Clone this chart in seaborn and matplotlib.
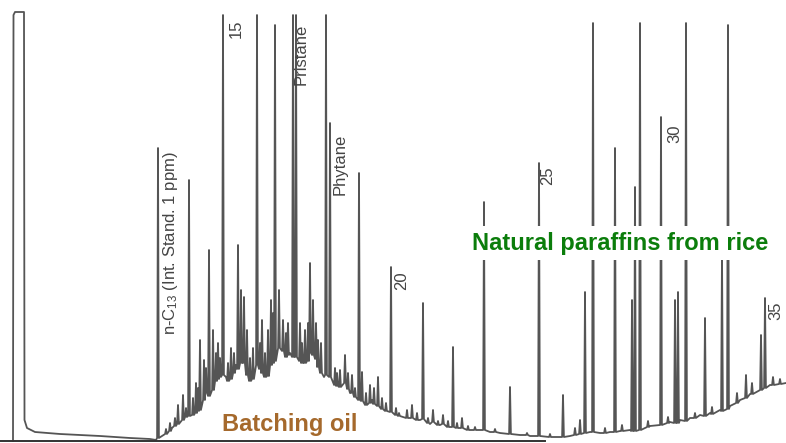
import pandas as pd
import seaborn as sns
import matplotlib
matplotlib.use('Agg')
import matplotlib.pyplot as plt

# Chromatogram: x = retention position, y = detector signal
# (same scale as the picture, signal 0 at the bottom edge)

# backbone of the trace: solvent front, unresolved hump ("batching oil"), drift
base_x = [13, 13.5, 15, 24, 24.5, 27, 35, 60, 100, 130, 150, 156,
          165, 172, 178, 183, 190, 195, 200, 205, 210, 215, 220, 226, 232, 236,
          242, 248, 252, 256, 262, 266, 270, 275, 280, 285, 290, 296, 300, 305,
          310, 315, 320, 324, 330, 335, 340, 345, 350, 355, 360, 365, 372, 378,
          385, 392, 400, 410, 420, 430, 440, 450, 460, 470, 480, 490, 500, 510,
          520, 530, 540, 550, 560, 570, 580, 590, 600, 610, 620, 630, 640, 650,
          660, 670, 680, 690, 700, 710, 720, 730, 740, 750, 760, 770, 780, 786]
base_y = [2, 428, 431, 431, 23, 15, 11, 9, 7, 5, 4, 3,
          9, 15, 19, 25, 30, 29, 40, 56, 52, 68, 74, 66, 72, 78,
          88, 66, 68, 84, 72, 67, 80, 93, 100, 88, 90, 82, 86, 78,
          92, 86, 72, 66, 70, 60, 56, 62, 50, 46, 42, 38, 43, 37,
          33, 29, 27, 25, 23, 19, 18, 16, 15, 13, 13, 11, 10, 9,
          8, 7, 7, 6, 6, 7, 10, 11, 10, 11, 12, 13, 15, 17,
          19, 21, 23, 25, 28, 30, 33, 37, 43, 49, 55, 58, 59, 60]

# resolved peaks and grass: position, apex signal, signal at the foot
peak_x = [158, 166, 170, 175, 178, 183, 186, 189, 193, 196, 198, 200, 204,
          206, 209, 213, 216, 218, 220, 223, 228, 231, 234, 238, 241, 244,
          247, 250, 253, 257, 260, 262, 265, 268, 271, 273, 275, 279, 283,
          286, 288, 293, 296, 300, 302, 305, 308, 310, 313, 316, 318, 321,
          326, 330, 335, 337, 340, 345, 348, 352, 355, 359, 362, 366, 370,
          374, 378, 382, 386, 391, 396, 399, 407, 412, 417, 423, 428, 433,
          438, 443, 448, 453, 457, 462, 468, 475, 484, 495, 510, 527, 539,
          550, 563, 575, 580, 585, 593, 605, 615, 622, 632, 635, 640, 648,
          661, 668, 675, 678, 686, 695, 705, 712, 722, 728, 737, 746, 752,
          761, 765, 773, 780]
peak_top = [295, 14, 20, 25, 38, 48, 35, 263, 45, 60, 55, 103, 83,
            75, 193, 113, 90, 100, 85, 428, 80, 95, 90, 198, 153, 146,
            113, 85, 95, 428, 100, 123, 90, 113, 143, 130, 418, 153, 123,
            110, 120, 428, 428, 120, 100, 113, 120, 180, 143, 120, 103, 100,
            428, 320, 75, 70, 73, 88, 70, 68, 55, 270, 71, 50, 58,
            55, 66, 45, 40, 176, 35, 30, 33, 38, 30, 140, 25, 33,
            22, 28, 22, 96, 20, 25, 17, 16, 241, 14, 56, 10, 280,
            9, 48, 15, 23, 151, 420, 15, 295, 18, 143, 256, 420, 22,
            326, 26, 143, 151, 420, 30, 125, 36, 190, 418, 50, 68, 60,
            108, 145, 66, 64]
peak_foot = [5, 9, 12, 17, 19, 23, 26, 27, 28, 30, 32, 33, 43,
             50, 47, 53, 62, 64, 66, 68, 62, 64, 70, 74, 80, 80,
             68, 62, 64, 78, 74, 70, 66, 67, 78, 80, 82, 95, 92,
             86, 88, 86, 86, 82, 80, 80, 82, 90, 88, 84, 76, 70,
             68, 66, 58, 57, 56, 60, 54, 50, 46, 43, 42, 38, 40,
             39, 37, 34, 32, 31, 28, 27, 25, 25, 23, 24, 20, 21,
             18, 19, 16, 16, 15, 15, 13, 13, 13, 11, 9, 8, 7,
             6, 6, 8, 9, 10, 11, 10, 11, 12, 12, 12, 13, 16,
             18, 20, 20, 20, 22, 25, 27, 29, 32, 34, 40, 45, 49,
             53, 55, 58, 59]

# peak annotations: text, anchor position, bottom of the rotated text
label_text = ['n-C$_{13}$ (Int. Stand. 1 ppm)', '15', 'Pristane', 'Phytane',
              '20', '25', '30', '35']
label_x = [170, 236, 301, 340, 402, 548, 675, 776]
label_y = [108, 405, 358, 248, 153, 258, 300, 123]

sns.set_theme(style='white')
plt.rcParams['font.family'] = ['Liberation Sans', 'DejaVu Sans']
plt.rcParams['mathtext.default'] = 'regular'

# stitch the backbone and the peaks into one trace
half_w = 0.9
pk_rows = []
for x, top, foot in zip(peak_x, peak_top, peak_foot):
    pk_rows += [(x - half_w, foot), (x, top), (x + half_w, foot)]
pk = pd.DataFrame(pk_rows, columns=['rt', 'signal'])
bb = pd.DataFrame({'rt': base_x, 'signal': base_y})
near = bb['rt'].apply(lambda v: min(abs(v - p) for p in peak_x) < 1.6)
bb = bb[~near | (bb['rt'] < 30)]
trace = pd.concat([bb, pk]).sort_values('rt', kind='stable').reset_index(drop=True)

fig = plt.figure(figsize=(7.86, 4.43), dpi=100)
ax = fig.add_axes([0, 0, 1, 1])
sns.lineplot(data=trace, x='rt', y='signal', sort=False, estimator=None,
             color='#555555', linewidth=1.3, ax=ax)

ax.set_xlim(0, 786)
ax.set_ylim(0, 443)
ax.set_xlabel('')
ax.set_ylabel('')
ax.set_xticks([])
ax.set_yticks([])
for s in ['top', 'right', 'left']:
    ax.spines[s].set_visible(False)
ax.spines['bottom'].set_position(('data', 2))
ax.spines['bottom'].set_bounds(0, 545)
ax.spines['bottom'].set_color('#333333')
ax.spines['bottom'].set_linewidth(1.4)

for t, x, y in zip(label_text, label_x, label_y):
    ax.text(x, y, t, rotation=90, ha='center', va='bottom', fontsize=12,
            color='#444444')

ax.text(620, 200, 'Natural paraffins from rice', ha='center', va='center',
        fontsize=17, fontweight='bold', color='#0b7d0b',
        bbox=dict(facecolor='white', edgecolor='none', pad=4))
ax.text(290, 19, 'Batching oil', ha='center', va='center',
        fontsize=17, fontweight='bold', color='#a5692c',
        bbox=dict(facecolor='white', edgecolor='none', pad=1))

fig.savefig('out.png', dpi=100)
